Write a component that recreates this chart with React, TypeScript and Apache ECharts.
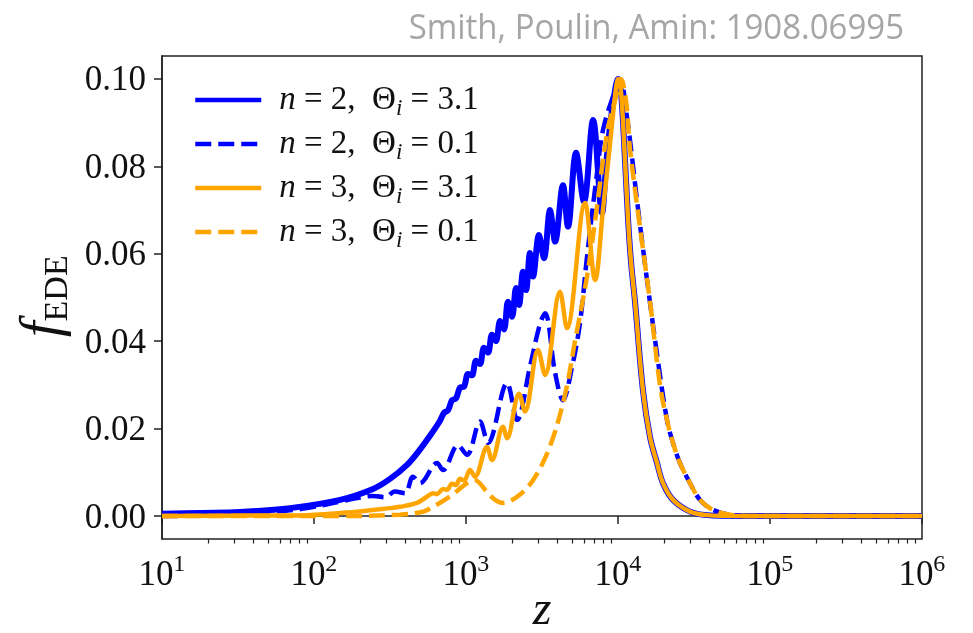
import React, { useEffect, useRef } from "react";
import * as echarts from "echarts";

// x values are log10(z); y values are f_EDE
const n2Theta31: [number, number][] = [
  [1.0, 0.0005], [1.25, 0.0007], [1.513, 0.0009], [1.842, 0.0018], [2.171, 0.0037], [2.388, 0.0062],
  [2.5, 0.0085], [2.612, 0.0117], [2.697, 0.0152], [2.77, 0.0187], [2.829, 0.0218], [2.855, 0.0236],
  [2.882, 0.0242], [2.908, 0.0265], [2.934, 0.0269], [2.961, 0.0294], [2.987, 0.0296], [3.013, 0.0325],
  [3.039, 0.0322], [3.066, 0.0355], [3.092, 0.0348], [3.118, 0.0385], [3.145, 0.0374], [3.171, 0.0415],
  [3.197, 0.04], [3.224, 0.0446], [3.25, 0.0427], [3.276, 0.049], [3.303, 0.0456], [3.329, 0.0522],
  [3.349, 0.0483], [3.375, 0.0559], [3.395, 0.0517], [3.421, 0.0602], [3.441, 0.0548], [3.48, 0.0643],
  [3.513, 0.059], [3.553, 0.07], [3.586, 0.0628], [3.638, 0.0757], [3.671, 0.0662], [3.724, 0.0831],
  [3.776, 0.0719], [3.836, 0.0906], [3.895, 0.0693], [3.921, 0.08], [3.947, 0.089], [3.974, 0.096],
  [4.0, 0.1], [4.02, 0.097], [4.046, 0.0815], [4.066, 0.068], [4.086, 0.058], [4.112, 0.049],
  [4.164, 0.0288], [4.211, 0.018], [4.257, 0.0121], [4.296, 0.0075], [4.362, 0.0037], [4.474, 0.001],
  [4.586, 0.0002], [4.803, 0.0], [5.197, 0.0], [6.0, 0.0],
];

const n2Theta01: [number, number][] = [
  [1.0, 0.0], [1.382, 0.0002], [1.73, 0.001], [1.954, 0.0018], [2.171, 0.0033], [2.303, 0.0042],
  [2.388, 0.0046], [2.467, 0.0043], [2.533, 0.0056], [2.599, 0.0052], [2.651, 0.009], [2.697, 0.0075],
  [2.809, 0.0121], [2.849, 0.0105], [2.947, 0.0162], [3.007, 0.014], [3.092, 0.0216], [3.145, 0.0167],
  [3.27, 0.0304], [3.336, 0.022], [3.421, 0.0342], [3.487, 0.044], [3.52, 0.0464], [3.586, 0.0328],
  [3.638, 0.0265], [3.697, 0.034], [3.75, 0.0442], [3.796, 0.0593], [3.862, 0.0785], [3.901, 0.0883],
  [3.967, 0.096], [4.013, 0.1], [4.059, 0.0913], [4.125, 0.0723], [4.191, 0.054], [4.257, 0.037],
  [4.322, 0.022], [4.362, 0.0167], [4.408, 0.0121], [4.474, 0.0075], [4.539, 0.0037], [4.625, 0.0014],
  [4.757, 0.0002], [4.934, 0.0], [6.0, 0.0],
];

const n3Theta31: [number, number][] = [
  [1.0, 0.0], [1.579, 0.0001], [1.954, 0.0002], [2.283, 0.001], [2.5, 0.0018], [2.566, 0.0021],
  [2.678, 0.003], [2.743, 0.0044], [2.783, 0.0052], [2.809, 0.005], [2.849, 0.0062], [2.875, 0.006],
  [2.908, 0.0074], [2.934, 0.0071], [2.961, 0.0085], [2.987, 0.0081], [3.026, 0.0105], [3.059, 0.009],
  [3.138, 0.0158], [3.171, 0.0128], [3.243, 0.0204], [3.27, 0.0178], [3.349, 0.028], [3.388, 0.0239],
  [3.474, 0.038], [3.52, 0.0323], [3.618, 0.0513], [3.664, 0.043], [3.783, 0.0716], [3.849, 0.054],
  [3.901, 0.07], [3.947, 0.085], [3.98, 0.096], [4.0, 0.1], [4.02, 0.097], [4.046, 0.0815],
  [4.066, 0.068], [4.086, 0.058], [4.112, 0.049], [4.164, 0.0288], [4.211, 0.018], [4.257, 0.0121],
  [4.296, 0.0075], [4.362, 0.0037], [4.474, 0.001], [4.586, 0.0002], [4.803, 0.0], [6.0, 0.0],
];

const n3Theta01: [number, number][] = [
  [1.0, 0.0], [2.171, 0.0], [2.566, 0.0003], [2.717, 0.001], [2.783, 0.0021], [2.895, 0.0045],
  [3.007, 0.0075], [3.059, 0.0082], [3.138, 0.0055], [3.191, 0.0037], [3.243, 0.003], [3.336, 0.0044],
  [3.441, 0.0082], [3.553, 0.016], [3.651, 0.0277], [3.717, 0.04], [3.796, 0.0548], [3.862, 0.0708],
  [3.928, 0.0876], [3.993, 0.0968], [4.02, 0.1], [4.053, 0.095], [4.079, 0.084], [4.145, 0.066],
  [4.211, 0.049], [4.276, 0.03], [4.322, 0.022], [4.362, 0.0167], [4.408, 0.0121], [4.474, 0.0075],
  [4.539, 0.0037], [4.625, 0.0014], [4.757, 0.0002], [4.934, 0.0], [6.0, 0.0],
];

const seriesNames = ["n2t31", "n2t01", "n3t31", "n3t01"];
const legendLabels: Record<string, string> = {
  n2t31: "{it|n}{rm| = 2,  Θ}{sub|i}{rm| = 3.1}{h| }",
  n2t01: "{it|n}{rm| = 2,  Θ}{sub|i}{rm| = 0.1}{h| }",
  n3t31: "{it|n}{rm| = 3,  Θ}{sub|i}{rm| = 3.1}{h| }",
  n3t01: "{it|n}{rm| = 3,  Θ}{sub|i}{rm| = 0.1}{h| }",
};
const yTicks = [0, 0.02, 0.04, 0.06, 0.08, 0.1];
const xMajorTicks = [1e1, 1e2, 1e3, 1e4, 1e5, 1e6];
const xMinorTicks: number[] = [];
for (let e = 1; e < 6; e++) for (let k = 2; k <= 9; k++) xMinorTicks.push(k * Math.pow(10, e));

const SERIF = "'Liberation Serif', 'DejaVu Serif', serif";
const INK = "#111";
const BLUE = "#0000ff";
const ORANGE = "#ffa500";
const toZ = (pts: [number, number][]) => pts.map(([lz, f]) => [Math.pow(10, lz), f]);

export default function App() {
  const ref = useRef<HTMLDivElement>(null);
  useEffect(() => {
    if (!ref.current) return;
    const chart = echarts.init(ref.current, undefined, { renderer: "svg" });
    const mk = (name: string, data: [number, number][], color: string, dashed: boolean, width: number) => ({
      name,
      type: "line",
      data: toZ(data),
      showSymbol: false,
      symbol: "none",
      smooth: 0.35,
      lineStyle: { color, width, type: dashed ? [16, 7] : "solid", cap: "butt" },
      itemStyle: { color },
      emphasis: { disabled: true },
    });
    const legText = { fontFamily: SERIF, fontSize: 33, color: INK };
    chart.setOption({
      animation: false,
      grid: { left: 162, top: 56, right: 51, bottom: 94, show: true, borderColor: "#222", borderWidth: 1.5, backgroundColor: "transparent" },
      xAxis: [
        {
          type: "log", logBase: 10, min: 10, max: 1e6,
          axisLine: { show: true, lineStyle: { color: "#222", width: 1.5 } },
          axisTick: { show: true, length: 8, lineStyle: { color: "#222", width: 1.5 }, customValues: xMajorTicks },
          axisLabel: {
            margin: 12,
            customValues: xMajorTicks,
            formatter: (v: number) => `{b|10}{s|${Math.round(Math.log10(v))}}{h| }`,
            rich: {
              b: { fontFamily: SERIF, fontSize: 35, color: INK, lineHeight: 34, verticalAlign: "bottom" },
              s: { fontFamily: SERIF, fontSize: 24, color: INK, lineHeight: 24, verticalAlign: "top" },
              h: { fontSize: 1, lineHeight: 40 },
            },
          },
          splitLine: { show: false },
          minorTick: { show: false },
        },
        {
          type: "log", logBase: 10, min: 10, max: 1e6, position: "bottom",
          axisLine: { show: false },
          axisTick: { show: true, length: 4.5, lineStyle: { color: "#222", width: 1.2 }, customValues: xMinorTicks },
          axisLabel: { show: false },
          splitLine: { show: false },
        },
      ],
      yAxis: {
        type: "value", min: -0.005263, max: 0.105263,
        axisLine: { show: true, lineStyle: { color: "#222", width: 1.5 } },
        axisTick: { show: true, length: 8, lineStyle: { color: "#222", width: 1.5 }, customValues: yTicks },
        axisLabel: {
          customValues: yTicks, margin: 16,
          formatter: (v: number) => v.toFixed(2),
          fontFamily: SERIF, fontSize: 35, color: INK,
        },
        splitLine: { show: false },
      },
      legend: {
        orient: "vertical", left: 188, top: 76, itemWidth: 66, itemHeight: 14, itemGap: 6,
        data: seriesNames,
        formatter: (name: string) => legendLabels[name],
        itemStyle: { opacity: 0 },
        lineStyle: { width: 4.5 },
        textStyle: {
          ...legText, padding: [0, 0, 0, 13],
          rich: {
            it: { ...legText, fontStyle: "italic", lineHeight: 34, verticalAlign: "top" },
            rm: { ...legText, lineHeight: 34, verticalAlign: "top" },
            sub: { ...legText, fontStyle: "italic", fontSize: 23, lineHeight: 22, verticalAlign: "bottom" },
            h: { fontSize: 1, lineHeight: 38 },
          },
        },
        selectedMode: false,
      },
      series: [
        mk("n2t31", n2Theta31, BLUE, false, 6),
        mk("n2t01", n2Theta01, BLUE, true, 4.5),
        mk("n3t31", n3Theta31, ORANGE, false, 4.5),
        mk("n3t01", n3Theta01, ORANGE, true, 4.5),
      ],
      graphic: [
        {
          type: "text", x: 904, y: 8, scaleX: 0.97,
          style: { text: "Smith, Poulin, Amin: 1908.06995", fontFamily: "'Open Sans', 'Noto Sans', sans-serif", fontSize: 34, lineHeight: 36, fill: "#a6a6a6", align: "right", verticalAlign: "top" },
        },
        {
          type: "text", x: 542, y: 631,
          style: { text: "z", fontFamily: SERIF, fontStyle: "italic", fontSize: 48, lineHeight: 48, fill: INK, align: "center", verticalAlign: "bottom" },
        },
        {
          type: "text", x: 42, y: 296, rotation: Math.PI / 2,
          style: {
            text: "{f|f}{s|EDE}{h| }", align: "center", verticalAlign: "middle",
            rich: {
              f: { fontFamily: SERIF, fontStyle: "italic", fontSize: 56, fill: INK, lineHeight: 52, verticalAlign: "top" },
              s: { fontFamily: SERIF, fontSize: 34, fill: INK, lineHeight: 30, verticalAlign: "bottom" },
              h: { fontSize: 1, lineHeight: 60 },
            },
          },
        },
      ],
    });
    return () => chart.dispose();
  }, []);
  return <div ref={ref} style={{ position: "fixed", left: 0, top: 0, width: 973, height: 633 }} />;
}
